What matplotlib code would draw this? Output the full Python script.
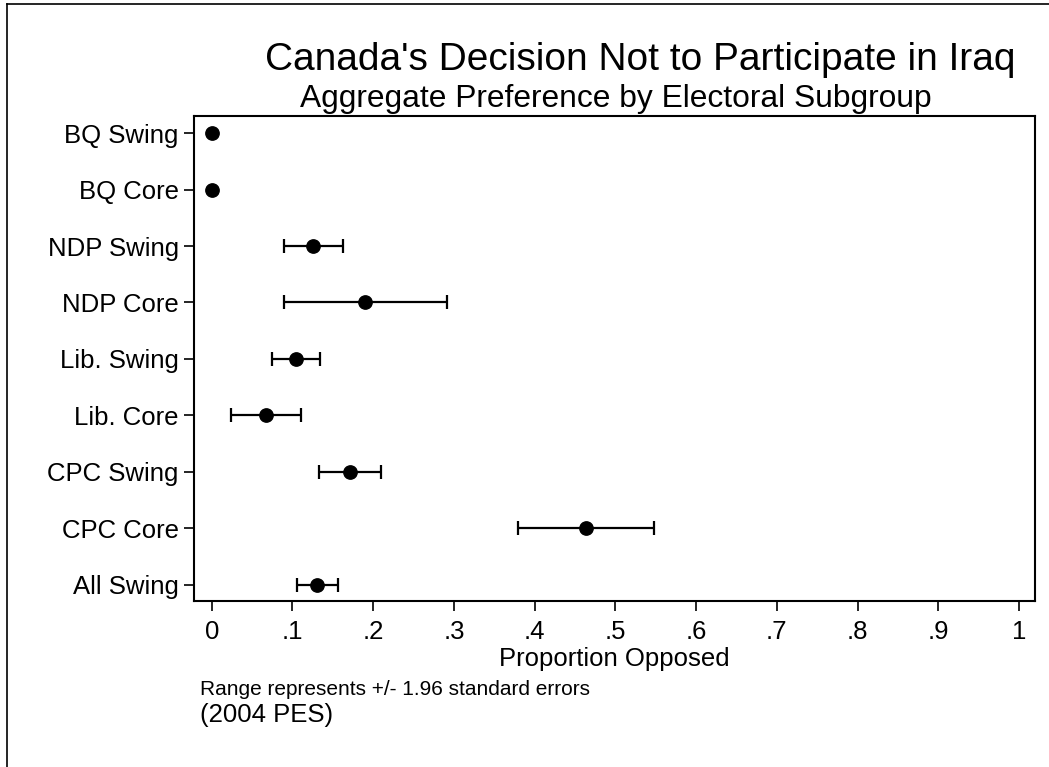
import numpy as np
import matplotlib
matplotlib.use("Agg")
import matplotlib.pyplot as plt
from matplotlib.lines import Line2D

plt.rcParams['font.family'] = ['Liberation Sans', 'DejaVu Sans']

# subgroups listed top to bottom as in the chart
groups = ['BQ Swing', 'BQ Core', 'NDP Swing', 'NDP Core', 'Lib. Swing',
          'Lib. Core', 'CPC Swing', 'CPC Core', 'All Swing']
prop = [0.0, 0.0, 0.126, 0.190, 0.104, 0.067, 0.171, 0.463, 0.130]
lower = [0.0, 0.0, 0.090, 0.090, 0.075, 0.024, 0.1325, 0.379, 0.106]
upper = [0.0, 0.0, 0.163, 0.291, 0.134, 0.111, 0.210, 0.548, 0.1565]
xticks = [0, .1, .2, .3, .4, .5, .6, .7, .8, .9, 1]
xticklabels = ['0', '.1', '.2', '.3', '.4', '.5', '.6', '.7', '.8', '.9', '1']

prop = np.array(prop)
lower = np.array(lower)
upper = np.array(upper)
ypos = np.arange(len(groups), 0, -1)

W, H = 1049, 767
fig = plt.figure(figsize=(W / 100, H / 100), dpi=100)
ax = fig.add_axes([194 / W, 1 - 601 / H, (1035 - 194) / W, (601 - 115.7) / H])

# BQ groups have no spread, so only draw bars where there is one
has_err = upper > lower
ax.errorbar(prop[has_err], ypos[has_err],
            xerr=[prop[has_err] - lower[has_err], upper[has_err] - prop[has_err]],
            fmt='none', ecolor='black', elinewidth=1.6, capsize=4.7, capthick=1.6)
ax.plot(prop, ypos, 'o', color='black', markersize=9.6, zorder=3)

ax.set_xlim(-0.022, 1.0198)
ax.set_ylim(0.71, 9.31)
ax.set_xticks(xticks)
ax.set_xticklabels(xticklabels)
ax.set_yticks(ypos)
ax.set_yticklabels(groups)
ax.tick_params(axis='both', direction='out', length=7, width=1.2,
               labelsize=18.5, colors='black')
ax.tick_params(axis='x', pad=7)
ax.tick_params(axis='y', pad=4)
for s in ax.spines.values():
    s.set_linewidth(1.5)
ax.set_xlabel('Proportion Opposed', fontsize=18.5, labelpad=2)

fig.text(640 / W, 1 - 70 / H, "Canada's Decision Not to Participate in Iraq",
         ha='center', va='baseline', fontsize=28)
fig.text(616 / W, 1 - 107 / H, 'Aggregate Preference by Electoral Subgroup',
         ha='center', va='baseline', fontsize=22.9)
fig.text(200 / W, 1 - 695 / H, 'Range represents +/- 1.96 standard errors',
         ha='left', va='baseline', fontsize=15)
fig.text(200 / W, 1 - 722 / H, '(2004 PES)',
         ha='left', va='baseline', fontsize=18.5)

# outer frame edges (left and top)
fig.add_artist(Line2D([7 / W, 7 / W], [0, 1 - 4 / H], color='black', lw=1.2,
                      transform=fig.transFigure))
fig.add_artist(Line2D([7 / W, 1], [1 - 4 / H, 1 - 4 / H], color='black', lw=1.2,
                      transform=fig.transFigure))

fig.savefig('out.png', dpi=100)
